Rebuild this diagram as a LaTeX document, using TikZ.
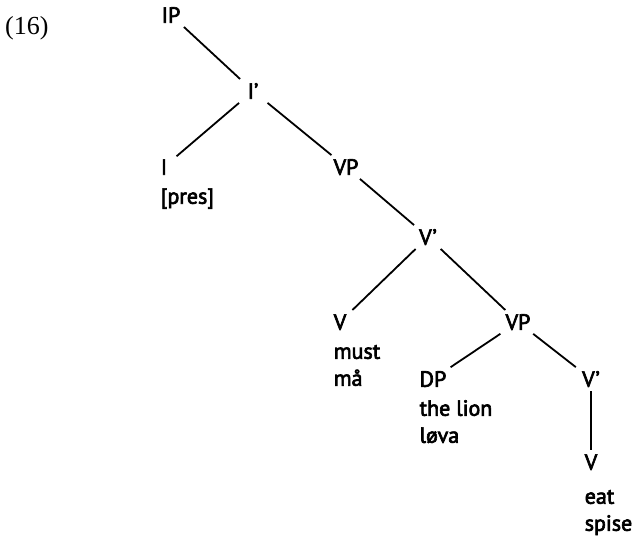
\documentclass[tikz,border=0pt]{standalone}
\usepackage{fontspec}
\setmainfont{Liberation Serif}
\newfontfamily\treefont[FakeBold=3]{PT Sans}
\usetikzlibrary{positioning}

\begin{document}
\begin{tikzpicture}[
  x=1pt,y=1pt,
  on grid,
  cat/.style={inner xsep=8pt,inner ysep=3pt,font=\treefont\fontsize{22}{27}\selectfont,text height=15.5pt,text depth=0pt},
  gloss/.style={inner xsep=3pt,inner ysep=0pt,anchor=base west,align=left,xshift=5pt,yshift=-29pt,font=\treefont\fontsize{22}{27}\selectfont},
  twoline/.style={gloss,yshift=-27pt},
  exno/.style={inner sep=0pt,anchor=base west,font=\fontsize{26}{30}\selectfont},
  branch/.style={line width=1.8pt,shorten <=1.5pt,shorten >=1.5pt}
]
\useasboundingbox (0,0) rectangle (637,-537);
\node[exno] (num) at (5,-35) {(16)};
\node[cat] (ip) at (171,-15) {IP};
\node[cat,below right=76pt and 82pt of ip] (ibar) {I’};
\node[cat,below left=76pt and 89pt of ibar] (i) {I};
\node[cat,below right=76pt and 93pt of ibar] (vp) {VP};
\node[cat,below right=70pt and 82pt of vp] (vbar) {V’};
\node[cat,below left=85pt and 88pt of vbar] (v) {V};
\node[cat,below right=85pt and 90pt of vbar] (vpb) {VP};
\node[cat,below left=57pt and 85pt of vpb] (dp) {DP};
\node[cat,below right=57pt and 73pt of vpb] (vbarb) {V’};
\node[cat,below=83pt of vbarb] (vb) {V};
\node[gloss] (pres) at (i.base west) {[pres]};
\node[twoline] (must) at (v.base west) {must\\må};
\node[twoline] (lion) at (dp.base west) {the lion\\løva};
\node[twoline,yshift=-5pt] (eat) at (vb.base west) {eat\\spise};
\draw[branch] (ip) -- (ibar);
\draw[branch] (ibar) -- (i);
\draw[branch] (ibar) -- (vp);
\draw[branch] (vp) -- (vbar);
\draw[branch] (vbar) -- (v);
\draw[branch] (vbar) -- (vpb);
\draw[branch] (vpb) -- (dp);
\draw[branch] (vpb) -- (vbarb);
\draw[branch] (vbarb) -- (vb);
\end{tikzpicture}
\end{document}
